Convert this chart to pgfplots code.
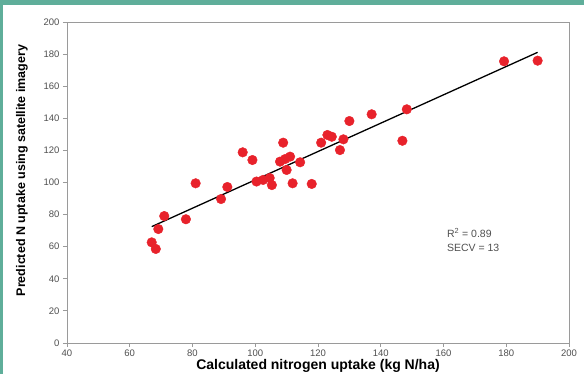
\documentclass[border=0pt]{standalone}
\usepackage{pgfplots}
\pgfplotsset{compat=1.18}
\usepackage{fontspec}
\setmainfont{Liberation Sans}
\definecolor{frameteal}{HTML}{5FAE9A}
\definecolor{dotred}{HTML}{E8222B}
\definecolor{axgray}{HTML}{9A9A9A}
\definecolor{tickgray}{HTML}{505050}
\begin{document}
\begin{tikzpicture}[x=1pt,y=1pt]
\useasboundingbox (0,0) rectangle (584,374);
\fill[frameteal] (0,0) rectangle (584,374);
\fill[white] (2.5,0) rectangle (584,369);
\begin{axis}[
  at={(67pt,31pt)}, anchor=south west,
  scale only axis, width=502pt, height=321pt,
  xmin=40, xmax=200, ymin=0, ymax=200,
  xtick={40,60,...,200}, ytick={0,20,...,200},
  axis line style={axgray, line width=0.9pt},
  tick style={axgray, line width=0.8pt},
  tick align=outside, major tick length=4pt,
  xtick pos=bottom, ytick pos=left,
  tick label style={font=\fontsize{9.5}{10}\selectfont, text=tickgray},
  /pgf/number format/assume math mode=true,
  xticklabel style={yshift=1pt},
  xlabel={\fontsize{14}{15}\selectfont\bfseries Calculated nitrogen uptake (kg N/ha)},
  ylabel={\fontsize{12.5}{14}\selectfont\bfseries Predicted N uptake using satellite imagery},
  xlabel style={yshift=4pt},
  ylabel style={yshift=9pt, xshift=12pt},
  clip=false,
]
\addplot[only marks, mark=*, mark size=4.8pt, dotred, mark options={draw=dotred, fill=dotred}] coordinates {
(67.0,62.7) (68.3,58.6) (69.1,71.0) (71.0,79.1) (77.9,77.1) (81.0,99.5)
(89.1,89.7) (91.1,97.2) (96.0,118.8) (99.1,114.0) (100.4,100.6) (102.5,101.6)
(104.6,102.8) (105.3,98.4) (108.9,124.8) (107.9,113.0) (109.5,114.6) (111.1,116.1)
(110.0,107.8) (114.3,112.6) (111.9,99.5) (118.0,99.1) (121.0,124.8) (123.0,129.6)
(124.4,128.5) (127.0,120.2) (128.1,126.9) (130.0,138.3) (137.1,142.5) (146.9,126.0)
(148.3,145.6) (179.3,175.5) (190.0,175.9)
};
\addplot[black, line width=1.3pt] coordinates {(67,72.5) (190,181.1)};
\node[anchor=west, font=\fontsize{10.5}{12}\selectfont, text=tickgray] at (axis cs:160,68.7) {R$^{\mathrm{2}}$ = 0.89};
\node[anchor=west, font=\fontsize{10.5}{12}\selectfont, text=tickgray] at (axis cs:160,59.4) {SECV = 13};
\end{axis}
\end{tikzpicture}
\end{document}
